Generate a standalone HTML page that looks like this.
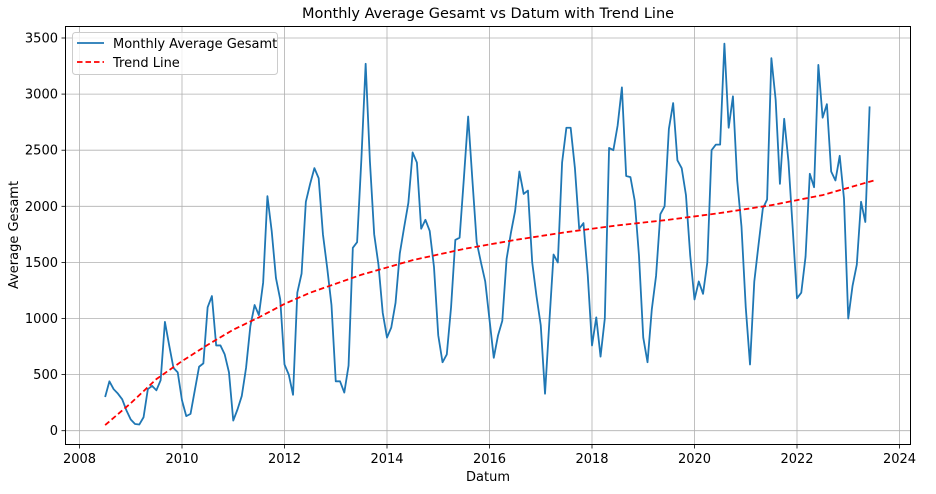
<!DOCTYPE html>
<html><head><meta charset="utf-8"><style>
body{margin:0;background:#fff;}
svg{display:block;font-family:"DejaVu Sans","Liberation Sans",sans-serif;}
</style></head><body>
<svg id="chart" width="936" height="494">
<text x="488" y="18" text-anchor="middle" font-size="14.5" fill="#000">Monthly Average Gesamt vs Datum with Trend Line</text>
<g id="grid"></g>
<g id="ticks"></g>
<g id="series"></g>
<rect x="65.5" y="26.5" width="845" height="418" fill="none" stroke="#000" stroke-width="1"/>
<text x="488" y="481" text-anchor="middle" font-size="13">Datum</text>
<text transform="translate(18,235) rotate(-90)" text-anchor="middle" font-size="13">Average Gesamt</text>
<g>
<rect x="72.5" y="32.5" width="205" height="42" rx="3" fill="#fff" fill-opacity="0.8" stroke="#ccc"/>
<line x1="77" y1="43" x2="104" y2="43" stroke="#1f77b4" stroke-width="1.8"/>
<text x="113" y="48" font-size="13">Monthly Average Gesamt</text>
<line x1="77" y1="62" x2="104" y2="62" stroke="red" stroke-width="1.8" stroke-dasharray="5.5,3"/>
<text x="113" y="67" font-size="13">Trend Line</text>
</g>
</svg>
<script>
const startYear = 2008.5;
const values = [
300,440,370,330,280,180,
100,60,55,120,370,400,360,450,970,760,560,520,
270,130,150,360,570,600,1100,1200,760,760,680,520,
90,190,310,560,930,1120,1030,1320,2090,1780,1360,1170,
590,500,320,1230,1400,2040,2200,2340,2250,1750,1450,1120,
440,440,340,580,1630,1680,2420,3270,2400,1750,1480,1050,
830,920,1140,1580,1810,2030,2480,2390,1800,1880,1780,1460,
850,610,680,1100,1700,1720,2250,2800,2230,1680,1500,1330,
990,650,850,980,1530,1760,1960,2310,2110,2140,1500,1200,
940,330,960,1570,1500,2390,2700,2700,2340,1800,1850,1390,
760,1010,660,1000,2520,2500,2720,3060,2270,2260,2050,1560,
830,610,1080,1380,1930,2000,2690,2920,2410,2340,2100,1560,
1170,1330,1220,1500,2500,2550,2550,3450,2700,2980,2230,1820,
1100,590,1330,1660,1980,2060,3320,2950,2200,2780,2400,1800,
1180,1230,1550,2290,2170,3260,2790,2910,2310,2230,2450,2070,
1000,1290,1480,2040,1860,2890];
const trendYears = [2008.5,2009,2009.5,2010,2010.5,2011,2011.5,2012,2012.5,2013.5,2014.5,2015.5,2016.5,2017.5,2018.5,2019.5,2020.5,2021.5,2022.5,2023.5];
const trendValues = [50,245,460,620,765,900,1010,1130,1230,1390,1520,1620,1700,1770,1830,1880,1940,2010,2100,2230];
const xTicks = [2008,2010,2012,2014,2016,2018,2020,2022,2024];
const yTicks = [0,500,1000,1500,2000,2500,3000,3500];

const NS="http://www.w3.org/2000/svg";
const X = y => 79.5 + (y-2008)*51.25;
const Y = v => 430.7 - v*0.1122;
function mk(tag, attrs, parent){const e=document.createElementNS(NS,tag);for(const k in attrs)e.setAttribute(k,attrs[k]);parent.appendChild(e);return e;}
const grid=document.getElementById('grid'), ticks=document.getElementById('ticks'), series=document.getElementById('series');
xTicks.forEach(t=>{
  const x=X(t);
  const g=mk('line',{x1:x,x2:x,y1:26.5,y2:444.5,stroke:'#b0b0b0','stroke-width':0.8},grid);
  
  
  const tk=mk('line',{x1:x,x2:x,y1:444.5,y2:448.5,stroke:'#000','stroke-width':0.8},ticks);
  
  
  const lb=mk('text',{x:x,y:463,'text-anchor':'middle','font-size':13},ticks);
  lb.textContent=t;
  
  
});
yTicks.forEach(t=>{
  const y=Y(t);
  const g=mk('line',{x1:65.5,x2:910.5,y1:y,y2:y,stroke:'#b0b0b0','stroke-width':0.8},grid);
  
  
  const tk=mk('line',{x1:61.5,x2:65.5,y1:y,y2:y,stroke:'#000','stroke-width':0.8},ticks);
  
  
  const lb=mk('text',{x:58,y:y+4.5,'text-anchor':'end','font-size':13},ticks);
  lb.textContent=t;
  
  
});
const pts=values.map((v,i)=>X(startYear+i/12).toFixed(2)+','+Y(v).toFixed(2)).join(' ');
const line=mk('polyline',{points:pts,fill:'none',stroke:'#1f77b4','stroke-width':1.8,'stroke-linejoin':'round'},series);


const tpts=trendValues.map((v,i)=>X(trendYears[i]).toFixed(2)+','+Y(v).toFixed(2)).join(' ');
const tl=mk('polyline',{points:tpts,fill:'none',stroke:'red','stroke-width':1.8,'stroke-dasharray':'5.5,3'},series);


</script>
</body></html>
